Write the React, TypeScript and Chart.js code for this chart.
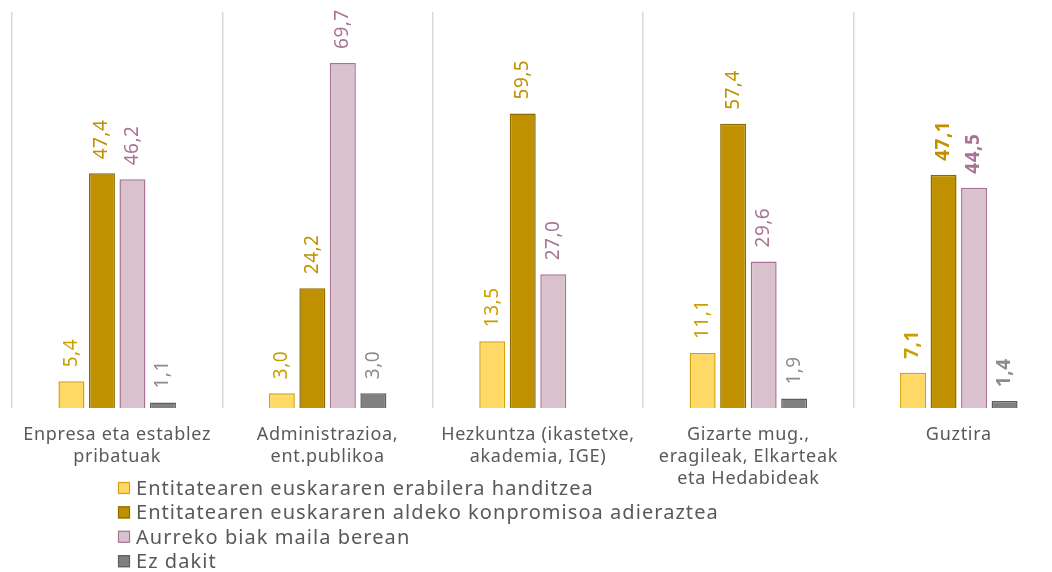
import React, { useEffect, useRef } from "react";
import { Chart, registerables } from "chart.js";

Chart.register(...registerables);

const categories: string[][] = [
  ["Enpresa eta establez", "pribatuak"],
  ["Administrazioa,", "ent.publikoa"],
  ["Hezkuntza (ikastetxe,", "akademia, IGE)"],
  ["Gizarte mug.,", "eragileak, Elkarteak", "eta Hedabideak"],
  ["Guztira"],
];

const seriesNames = [
  "Entitatearen euskararen erabilera handitzea",
  "Entitatearen euskararen aldeko konpromisoa adieraztea",
  "Aurreko biak maila berean",
  "Ez dakit",
];

const usageValues: (number | null)[] = [5.4, 3.0, 13.5, 11.1, 7.1];
const commitmentValues: (number | null)[] = [47.4, 24.2, 59.5, 57.4, 47.1];
const bothValues: (number | null)[] = [46.2, 69.7, 27.0, 29.6, 44.5];
const dontKnowValues: (number | null)[] = [1.1, 3.0, null, 1.9, 1.4];

const fills = ["#FFD966", "#BF9000", "#D9C1CE", "#808080"];
const borders = ["#D4A20A", "#8C6A00", "#A87395", "#5E5E5E"];
const labelColors = ["#C9A000", "#BF9000", "#A87395", "#8C8C8C"];

const FONT = "'Noto Sans', 'DejaVu Sans', sans-serif";
const TEXT_COLOR = "#595959";

const spacingPlugin = {
  id: "letterSpacing",
  beforeInit(chart: any) {
    chart.ctx.letterSpacing = "0.7px";
  },
  beforeDraw(chart: any) {
    chart.ctx.letterSpacing = "0.7px";
  },
};

const valueLabelPlugin = {
  id: "valueLabels",
  afterDatasetsDraw(chart: any) {
    const ctx = chart.ctx;
    const lastIndex = chart.data.labels.length - 1;
    chart.data.datasets.forEach((ds: any, di: number) => {
      const meta = chart.getDatasetMeta(di);
      meta.data.forEach((bar: any, i: number) => {
        const v = ds.data[i];
        if (v === null || v === undefined) return;
        const text = v.toFixed(1).replace(".", ",");
        ctx.save();
        ctx.letterSpacing = "0.5px";
        ctx.translate(bar.x, bar.y - 14);
        ctx.rotate(-Math.PI / 2);
        ctx.textAlign = "left";
        ctx.textBaseline = "middle";
        ctx.fillStyle = labelColors[di];
        ctx.font = `${i === lastIndex ? "bold " : ""}19px ${FONT}`;
        ctx.fillText(text, 0, 0);
        ctx.restore();
      });
    });
  },
};

const legendPlugin = {
  id: "customLegend",
  afterDraw(chart: any) {
    const ctx = chart.ctx;
    const x0 = 118;
    const y0 = 488;
    const step = 24.4;
    chart.data.datasets.forEach((ds: any, di: number) => {
      const cy = y0 + di * step;
      ctx.save();
      ctx.fillStyle = fills[di];
      ctx.strokeStyle = borders[di];
      ctx.lineWidth = 1.2;
      ctx.fillRect(x0, cy - 6, 12, 12);
      ctx.strokeRect(x0 + 0.5, cy - 5.5, 11, 11);
      ctx.fillStyle = TEXT_COLOR;
      ctx.letterSpacing = "1.05px";
      ctx.font = `20px ${FONT}`;
      ctx.textAlign = "left";
      ctx.textBaseline = "middle";
      ctx.fillText(ds.label, x0 + 18, cy + 1);
      ctx.restore();
    });
  },
};

export default function App() {
  const canvasRef = useRef<HTMLCanvasElement | null>(null);

  useEffect(() => {
    if (!canvasRef.current) return;
    const dataSets = [usageValues, commitmentValues, bothValues, dontKnowValues];
    const chart = new Chart(canvasRef.current, {
      type: "bar",
      data: {
        labels: categories,
        datasets: dataSets.map((d, i) => ({
          label: seriesNames[i],
          data: d,
          backgroundColor: fills[i],
          borderColor: borders[i],
          borderWidth: 1.5,
          categoryPercentage: 0.58,
          barPercentage: 0.852,
        })),
      },
      options: {
        responsive: false,
        animation: false,
        devicePixelRatio: 1,
        layout: { padding: { left: 12, top: 12, right: 2, bottom: 0 } },
        plugins: {
          legend: { display: false },
          tooltip: { enabled: false },
        },
        scales: {
          x: {
            grid: {
              display: true,
              offset: true,
              color: "#D9D9D9",
              lineWidth: 1.5,
              drawTicks: false,
            },
            border: { display: false },
            ticks: {
              color: TEXT_COLOR,
              font: { family: FONT, size: 18, lineHeight: 1.22 },
              padding: 16,
              maxRotation: 0,
              autoSkip: false,
            },
            afterFit: (scale: any) => {
              scale.height = 164;
            },
          },
          y: {
            display: false,
            min: 0,
            max: 80,
          },
        },
      },
      plugins: [spacingPlugin, valueLabelPlugin, legendPlugin],
    });
    return () => chart.destroy();
  }, []);

  return (
    <div
      style={{
        position: "absolute",
        left: 0,
        top: 0,
        width: 1052,
        height: 572,
        overflow: "hidden",
        background: "#ffffff",
      }}
    >
      <canvas ref={canvasRef} width={1066} height={572} style={{ display: "block" }} />
    </div>
  );
}
